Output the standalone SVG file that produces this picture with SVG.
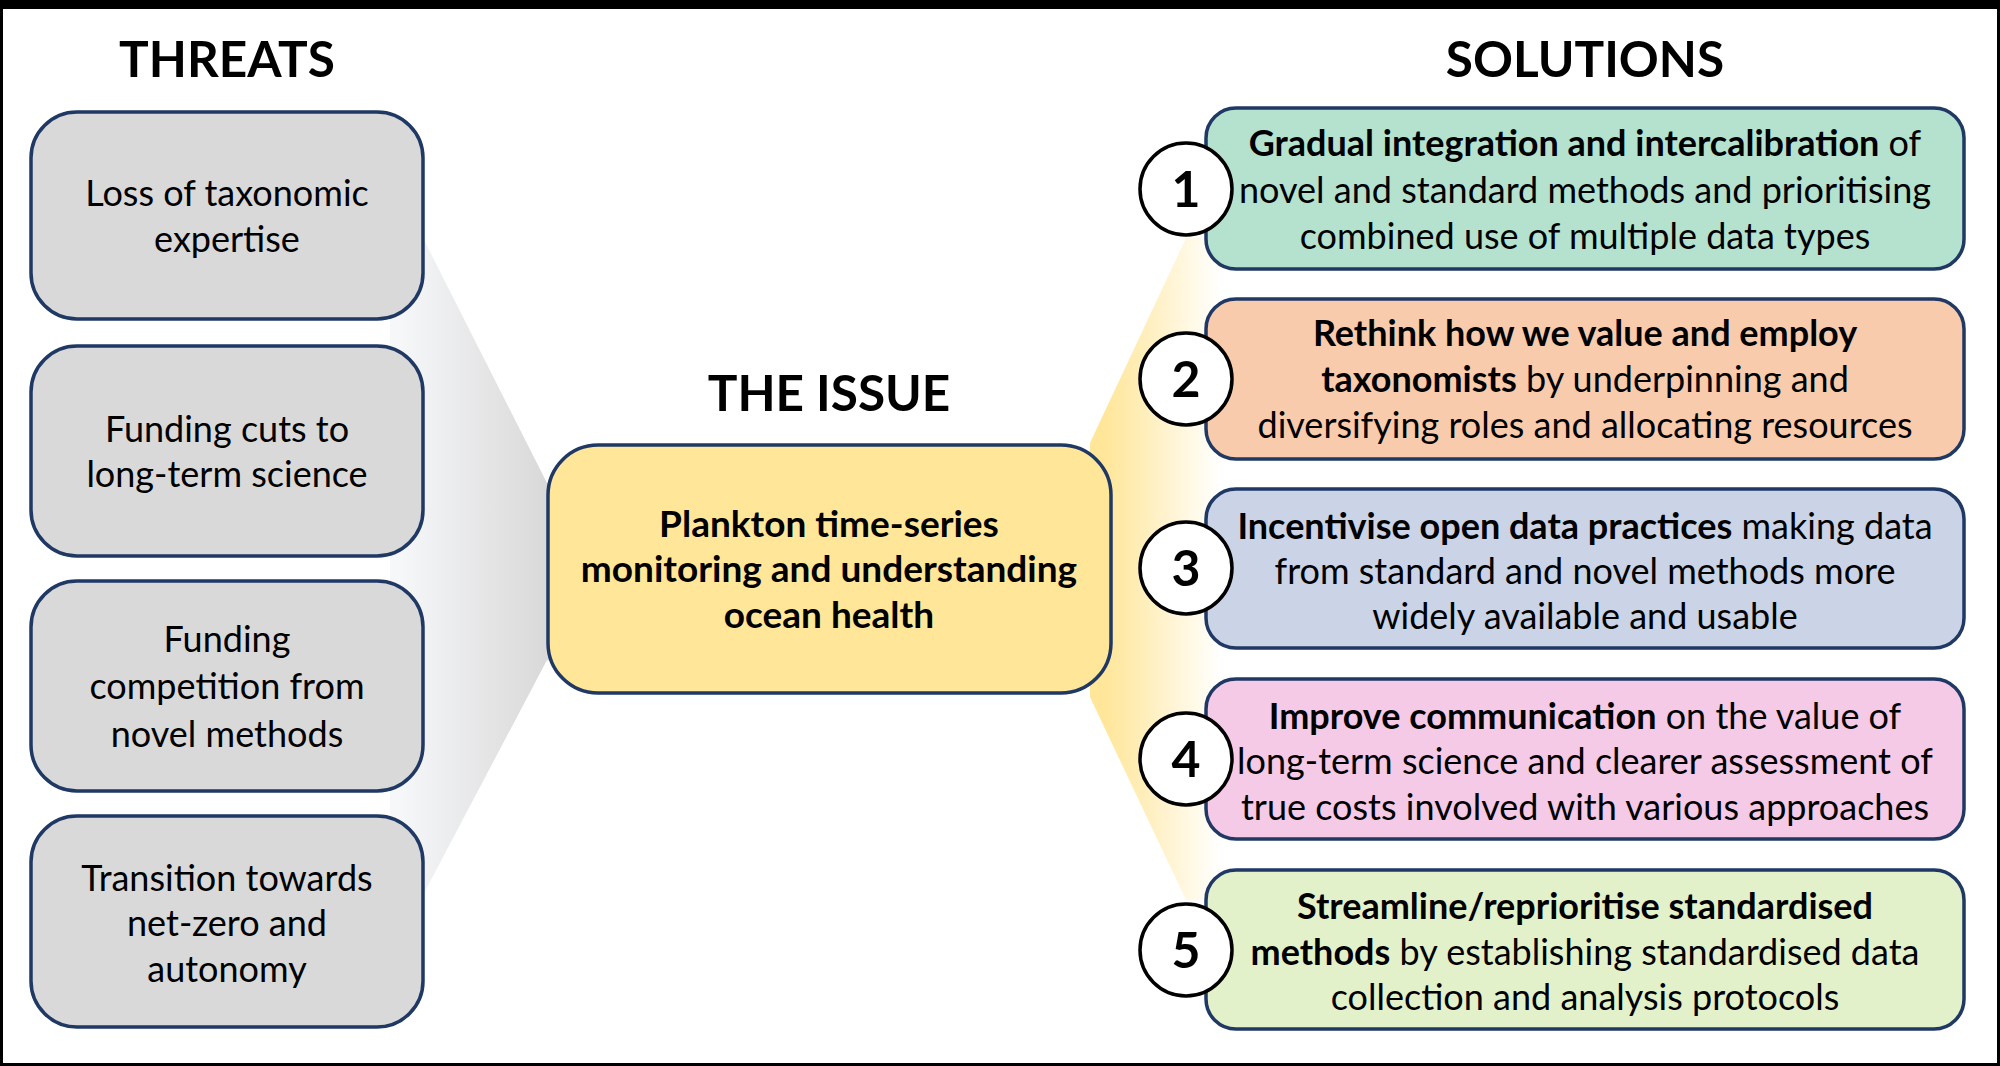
<svg xmlns="http://www.w3.org/2000/svg" width="2000" height="1066" viewBox="0 0 2000 1066">
<defs>
<linearGradient id="grayFan" gradientUnits="userSpaceOnUse" x1="400" y1="0" x2="560" y2="0">
<stop offset="0" stop-color="#F6F7F9"/>
<stop offset="1" stop-color="#D6D6D6"/>
</linearGradient>
<linearGradient id="yellowFan" gradientUnits="userSpaceOnUse" x1="1105" y1="0" x2="1220" y2="0">
<stop offset="0" stop-color="#FFE699"/>
<stop offset="1" stop-color="#FFFFFF"/>
</linearGradient>
<style>
.title{font-family:Lato,"Open Sans","Liberation Sans",sans-serif;font-weight:bold;font-size:49.5px;fill:#000;text-anchor:middle}
.threat{fill:#D9D9D9;stroke:#1F3864;stroke-width:3.5}
.sol{stroke:#1F3864;stroke-width:3.5}
.txt{font-family:Lato,"Open Sans","Liberation Sans",sans-serif;font-size:36px;fill:#000;text-anchor:middle}
.iss{font-size:37px}
.b{font-weight:bold}
.num{fill:#FFFFFF;stroke:#000;stroke-width:3.5}
.numt{font-family:Lato,"Open Sans","Liberation Sans",sans-serif;font-weight:bold;font-size:50px;fill:#000;text-anchor:middle}
</style>
</defs>
<rect x="0" y="0" width="2000" height="1066" fill="#FFFFFF"/>
<g id="connectors">
<polygon points="390,170 423,238 547,483 570,470 570,670 547,660 423,895 390,960" fill="url(#grayFan)"/>
<polygon points="1090,443 1186,238 1260,238 1260,900 1186,900 1090,697" fill="url(#yellowFan)"/>
</g>
<text class="title" x="227" y="77">THREATS</text>
<text class="title" x="1585" y="77">SOLUTIONS</text>
<text class="title" x="829" y="411">THE ISSUE</text>
<g id="threat1"><rect class="threat" x="31" y="112" width="392" height="207" rx="46"/>
<text class="txt" x="227" y="206">Loss of taxonomic</text><text class="txt" x="227" y="252">expertise</text></g>
<g id="threat2"><rect class="threat" x="31" y="346" width="392" height="210" rx="46"/>
<text class="txt" x="227" y="442">Funding cuts to</text><text class="txt" x="227" y="487">long-term science</text></g>
<g id="threat3"><rect class="threat" x="31" y="581" width="392" height="210" rx="46"/>
<text class="txt" x="227" y="652">Funding</text><text class="txt" x="227" y="699">competition from</text><text class="txt" x="227" y="747">novel methods</text></g>
<g id="threat4"><rect class="threat" x="31" y="816" width="392" height="211" rx="46"/>
<text class="txt" x="227" y="891">Transition towards</text><text class="txt" x="227" y="936">net-zero and</text><text class="txt" x="227" y="982">autonomy</text></g>
<g id="issue"><rect x="548" y="445" width="563" height="248" rx="50" fill="#FFE699" stroke="#1F3864" stroke-width="3.5"/>
<text class="txt iss b" x="829" y="537">Plankton time-series</text><text class="txt iss b" x="829" y="582">monitoring and understanding</text><text class="txt iss b" x="829" y="628">ocean health</text></g>
<g id="solution1"><rect class="sol" x="1206" y="108" width="758" height="161" rx="30" fill="#B4E2CF"/>
<text class="txt" x="1585" y="156"><tspan class="b">Gradual integration and intercalibration</tspan> of</text>
<text class="txt" x="1585" y="203">novel and standard methods and prioritising</text>
<text class="txt" x="1585" y="249">combined use of multiple data types</text>
<circle class="num" cx="1186" cy="189" r="46"/><text class="numt" x="1186" y="207">1</text></g>
<g id="solution2"><rect class="sol" x="1206" y="299" width="758" height="160" rx="30" fill="#F8CBAD"/>
<text class="txt" x="1585" y="346"><tspan class="b">Rethink how we value and employ</tspan></text>
<text class="txt" x="1585" y="392"><tspan class="b">taxonomists</tspan> by underpinning and</text>
<text class="txt" x="1585" y="438">diversifying roles and allocating resources</text>
<circle class="num" cx="1186" cy="379" r="46"/><text class="numt" x="1186" y="397">2</text></g>
<g id="solution3"><rect class="sol" x="1206" y="489" width="758" height="159" rx="30" fill="#CAD4E6"/>
<text class="txt" x="1585" y="539"><tspan class="b">Incentivise open data practices</tspan> making data</text>
<text class="txt" x="1585" y="584">from standard and novel methods more</text>
<text class="txt" x="1585" y="629">widely available and usable</text>
<circle class="num" cx="1186" cy="568" r="46"/><text class="numt" x="1186" y="586">3</text></g>
<g id="solution4"><rect class="sol" x="1206" y="679" width="758" height="160" rx="30" fill="#F4CAE6"/>
<text class="txt" x="1585" y="729"><tspan class="b">Improve communication</tspan> on the value of</text>
<text class="txt" x="1585" y="774">long-term science and clearer assessment of</text>
<text class="txt" x="1585" y="820">true costs involved with various approaches</text>
<circle class="num" cx="1186" cy="759" r="46"/><text class="numt" x="1186" y="777">4</text></g>
<g id="solution5"><rect class="sol" x="1206" y="870" width="758" height="159" rx="30" fill="#E3F1CB"/>
<text class="txt" x="1585" y="919"><tspan class="b">Streamline/reprioritise standardised</tspan></text>
<text class="txt" x="1585" y="965"><tspan class="b">methods</tspan> by establishing standardised data</text>
<text class="txt" x="1585" y="1010">collection and analysis protocols</text>
<circle class="num" cx="1186" cy="950" r="46"/><text class="numt" x="1186" y="968">5</text></g>
<rect x="0" y="0" width="2000" height="9" fill="#000"/>
<rect x="1.5" y="1.5" width="1997" height="1063" fill="none" stroke="#000" stroke-width="3"/>
</svg>
